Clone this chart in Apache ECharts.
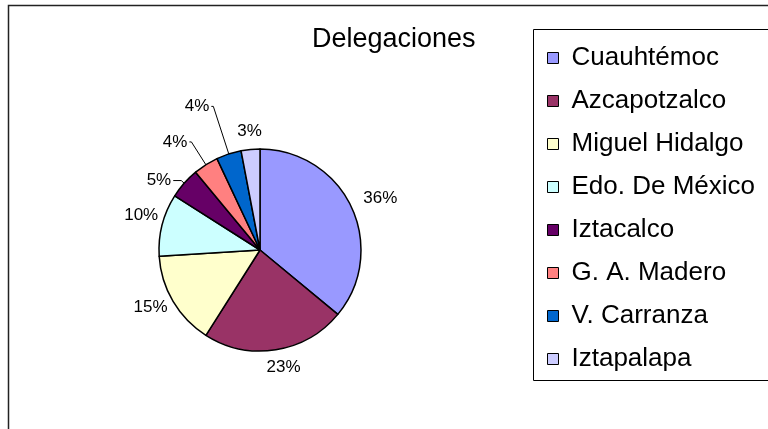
<!DOCTYPE html>
<html>
<head>
<meta charset="utf-8">
<script src="https://cdn.jsdelivr.net/npm/echarts@6/dist/echarts.min.js"></script>
<style>
  html, body { margin: 0; padding: 0; background: #fff; }
  #chart { width: 768px; height: 429px; }
</style>
</head>
<body>
<div id="chart"></div>
<script>
// delegaciones y su porcentaje
const categories = ['Cuauhtémoc', 'Azcapotzalco', 'Miguel Hidalgo', 'Edo. De México',
  'Iztacalco', 'G. A. Madero', 'V. Carranza', 'Iztapalapa'];
const values = [36, 23, 15, 10, 5, 4, 4, 3];
const colors = ['#9999FF', '#993366', '#FFFFCC', '#CCFFFF', '#660066', '#FF8080', '#0066CC', '#CCCCFF'];

// largo de la linea guia por rebanada (length2 = 0 -> sin linea)
const lineLen = [11, 18, 4, 2, 4, 27, 50, 18];
const lineLen2 = [0, 0, 0, 0, 8, 2, 2, 0];
// pequeños ajustes de etiqueta, como los pone Excel
const labelDx = [0, -14, 0, 0, 0, 0, 0, 15];
const labelDy = [-4, 0, 4, -9, 0, 0, 0, 0];

const font = 'Liberation Sans, Arial, sans-serif';

const chart = echarts.init(document.getElementById('chart'));

const pieData = categories.map((name, i) => ({
  name,
  value: values[i],
  itemStyle: { color: colors[i] },
  labelLine: {
    show: lineLen2[i] > 0,
    length: lineLen[i],
    length2: lineLen2[i],
  },
}));

chart.setOption({
  animation: false,
  title: {
    text: 'Delegaciones',
    left: 312,
    top: 26,
    padding: 0,
    textStyle: { fontFamily: font, fontSize: 27, fontWeight: 'normal', color: '#000' },
  },
  legend: {
    orient: 'vertical',
    left: 542,
    top: 40,
    itemWidth: 11,
    itemHeight: 11,
    itemGap: 17,
    icon: 'rect',
    itemStyle: { borderColor: '#000', borderWidth: 1 },
    textStyle: { fontFamily: font, fontSize: 26, color: '#000', lineHeight: 22, padding: [0, 0, 0, 8] },
    data: categories,
  },
  graphic: [
    {
      type: 'rect',
      shape: { x: 8.5, y: 5.5, width: 800, height: 440 },
      style: { fill: null, stroke: '#222', lineWidth: 1.5 },
      silent: true,
    },
    {
      type: 'rect',
      shape: { x: 533.5, y: 29.5, width: 300, height: 351 },
      style: { fill: null, stroke: '#000', lineWidth: 1 },
      silent: true,
    },
  ],
  series: [
    {
      type: 'pie',
      center: [260, 250],
      radius: 101,
      startAngle: 90,
      clockwise: true,
      avoidLabelOverlap: false,
      itemStyle: { borderColor: '#000', borderWidth: 1.5 },
      emphasis: { disabled: true },
      label: {
        show: true,
        position: 'outside',
        formatter: '{d}%',
        fontFamily: font,
        fontSize: 17,
        color: '#000',
        distanceToLabelLine: 2,
      },
      labelLine: { lineStyle: { color: '#000', width: 1 } },
      labelLayout: (params) => ({
        dx: labelDx[params.dataIndex],
        dy: labelDy[params.dataIndex],
      }),
      data: pieData,
    },
  ],
});
</script>
</body>
</html>
